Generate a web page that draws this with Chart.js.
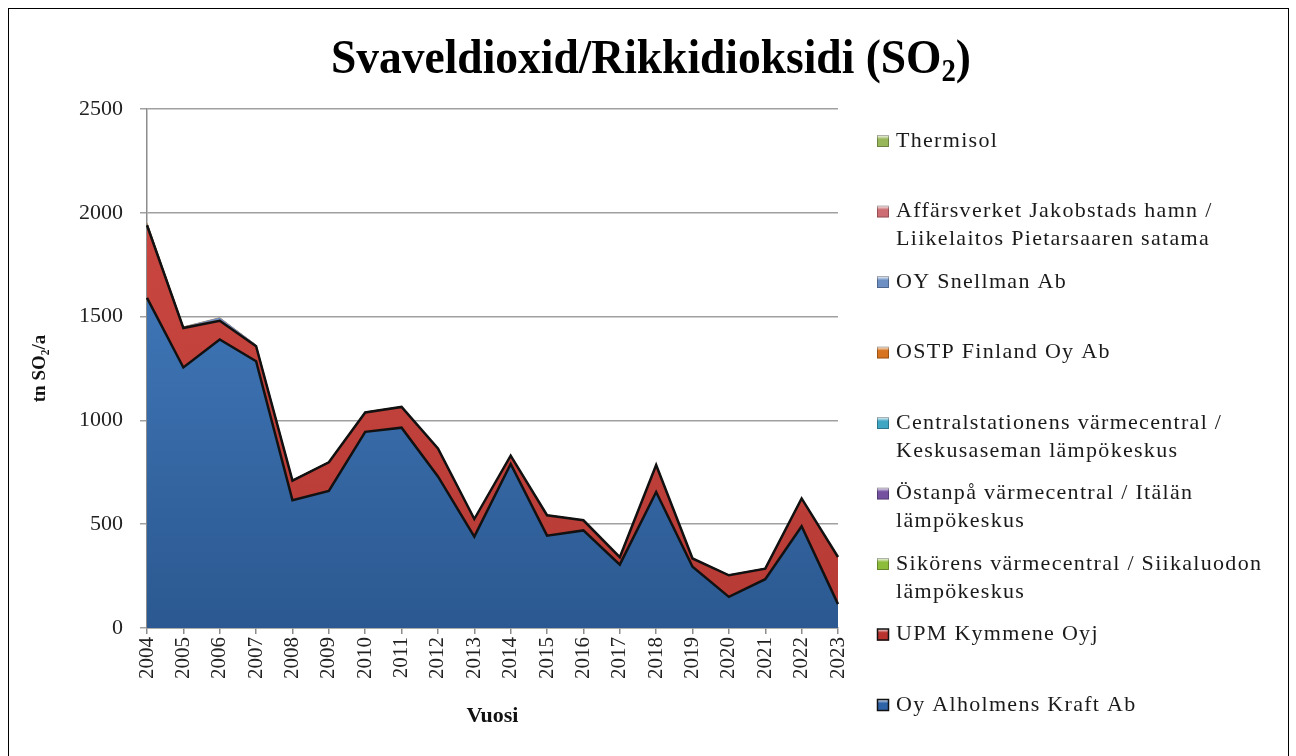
<!DOCTYPE html>
<html>
<head>
<meta charset="utf-8">
<script src="https://cdn.jsdelivr.net/npm/chart.js@4.4.1/dist/chart.umd.min.js"></script>
<style>
  html, body { margin: 0; padding: 0; background: #fff; }
  #wrap { position: relative; width: 1296px; height: 756px; }
</style>
</head>
<body>
<div id="wrap"><canvas id="so2Chart"></canvas></div>
<script>
// Data (tn SO2 per year)
const years = ['2004','2005','2006','2007','2008','2009','2010','2011','2012','2013',
               '2014','2015','2016','2017','2018','2019','2020','2021','2022','2023'];

const alholmens  = [1590,1255,1390,1285,615,660,945,965,730,440,790,445,470,305,655,295,150,235,490,115];
const upm        = [350,190,90,72,95,138,93,100,135,85,40,98,49,36,130,40,104,51,134,227];
const sikoren    = [2,1,1,1,1,1,1,0,0,0,0,0,0,0,0,0,0,0,0,0];
const ostanpa    = [1,1,0,0,0,0,0,0,0,0,0,0,0,0,0,0,0,0,0,0];
const central    = [1,1,1,1,0,0,0,0,0,0,0,0,0,0,0,0,0,0,0,0];
const ostp       = [5,2,1,1,1,1,1,1,1,1,1,1,1,1,0,1,1,1,1,0];
const snellman   = [0,0,10,3,0,0,0,0,0,0,0,0,0,0,0,0,0,0,0,0];
const jakobstad  = [1,0,1,0,0,0,0,0,0,0,0,0,0,0,0,0,0,0,0,0];
const thermisol  = [0,0,1,0,0,0,0,0,0,0,0,0,0,0,0,0,0,0,0,0];

const yTicks = [0, 500, 1000, 1500, 2000, 2500];

const titleText = 'Svaveldioxid/Rikkidioksidi (SO';
const yAxisTitle = 'tn SO\u2082/a';
const xAxisTitle = 'Vuosi';

// Series, bottom of the stack first. Legend lists them top-down in reverse.
const series = [
  { label: ['Oy Alholmens Kraft Ab'], data: alholmens, color: '#2f63a8', top: '#4a86cc', bottom: '#2b5890', line: '#111' },
  { label: ['UPM Kymmene Oyj'], data: upm, color: '#b8332e', top: '#cf4a43', bottom: '#b63a35', line: '#111' },
  { label: ['Sikörens värmecentral / Siikaluodon', 'lämpökeskus'], data: sikoren, color: '#8dbb3a' },
  { label: ['Östanpå värmecentral / Itälän', 'lämpökeskus'], data: ostanpa, color: '#7452a0' },
  { label: ['Centralstationens värmecentral /', 'Keskusaseman lämpökeskus'], data: central, color: '#3fa6c4' },
  { label: ['OSTP Finland Oy Ab'], data: ostp, color: '#d7731e' },
  { label: ['OY Snellman Ab'], data: snellman, color: '#6e8fc4' },
  { label: ['Affärsverket Jakobstads hamn /', 'Liikelaitos Pietarsaaren satama'], data: jakobstad, color: '#cc6e73' },
  { label: ['Thermisol'], data: thermisol, color: '#98b65a' }
];

const SERIF = '"Liberation Serif", "Times New Roman", serif';

function areaFill(s) {
  return (ctx) => {
    const area = ctx.chart.chartArea;
    if (!area || !s.top) return s.color;
    const g = ctx.chart.ctx.createLinearGradient(0, area.top, 0, area.bottom);
    g.addColorStop(0, s.top);
    g.addColorStop(1, s.bottom);
    return g;
  };
}

// Title with a real subscript 2, plus the outer frame
const frameAndTitle = {
  id: 'frameAndTitle',
  afterDraw(chart) {
    const c = chart.ctx;
    c.save();
    c.strokeStyle = '#000';
    c.lineWidth = 1;
    c.strokeRect(8.5, 8.5, 1280, 760);

    c.fillStyle = '#000';
    c.textBaseline = 'alphabetic';
    const big = 'bold 49px ' + SERIF;
    const small = 'bold 31px ' + SERIF;
    c.font = big;
    const w1 = c.measureText(titleText).width;
    const w3 = c.measureText(')').width;
    c.font = small;
    const w2 = c.measureText('2').width;
    const total = w1 + w2 + w3;
    const target = 640;
    const sx = Math.min(1, target / total);
    const startX = 651 - (total * sx) / 2;
    const base = 73;
    c.translate(startX, 0);
    c.scale(sx, 1);
    c.font = big;
    c.fillText(titleText, 0, base);
    c.font = small;
    c.fillText('2', w1, base + 8);
    c.font = big;
    c.fillText(')', w1 + w2, base);
    c.restore();
  }
};

// Legend on the right with wrapped labels, spread like the original
const sideLegend = {
  id: 'sideLegend',
  afterDraw(chart) {
    const c = chart.ctx;
    const items = series.slice().reverse();
    const firstY = 141;
    const step = 70.5;
    const lineH = 28;
    c.save();
    c.font = '22px ' + SERIF;
    c.letterSpacing = '1.3px';
    c.textBaseline = 'middle';
    items.forEach((s, i) => {
      const y = firstY + i * step;
      const bx = 877, by = y - 6, bs = 12;
      const g = c.createLinearGradient(0, by, 0, by + bs);
      g.addColorStop(0, '#ffffff');
      g.addColorStop(0.35, s.color);
      g.addColorStop(1, s.color);
      c.fillStyle = g;
      c.fillRect(bx, by, bs, bs);
      c.strokeStyle = (s.line || 'rgba(0,0,0,0.35)');
      c.lineWidth = s.line ? 1.5 : 0.8;
      c.strokeRect(bx + 0.5, by + 0.5, bs - 1, bs - 1);
      c.fillStyle = '#1a1a1a';
      s.label.forEach((t, k) => c.fillText(t, 896, y + k * lineH));
    });
    c.restore();
  }
};

const datasets = series.map((s, i) => ({
  label: s.label.join(' '),
  data: s.data,
  fill: i === 0 ? 'origin' : '-1',
  backgroundColor: areaFill(s),
  borderColor: s.line || s.color,
  borderWidth: s.line ? 2.5 : 0.8,
  pointRadius: 0,
  pointHoverRadius: 0,
  tension: 0
}));

new Chart(document.getElementById('so2Chart'), {
  type: 'line',
  data: { labels: years, datasets },
  options: {
    responsive: true,
    maintainAspectRatio: false,
    animation: false,
    layout: { padding: { left: 0, top: 109, right: 458, bottom: 0 } },
    plugins: {
      legend: { display: false },
      title: { display: false },
      tooltip: { enabled: false }
    },
    scales: {
      x: {
        stacked: true,
        offset: false,
        afterFit(scale) { scale.height = 128; },
        grid: { drawOnChartArea: false, drawTicks: true, tickLength: 6, color: '#8c8c8c', lineWidth: 1.5 },
        border: { display: true, color: '#8c8c8c', width: 1.5 },
        ticks: {
          minRotation: 90, maxRotation: 90, autoSkip: false, padding: 3,
          color: '#222', font: { family: SERIF, size: 21 }
        },
        title: {
          display: true, text: xAxisTitle, color: '#111',
          font: { family: SERIF, size: 22, weight: 'bold' },
          padding: { top: 0, bottom: 26 }
        }
      },
      y: {
        stacked: true,
        min: 0, max: 2500,
        afterFit(scale) { scale.width = 147; },
        afterBuildTicks(scale) { scale.ticks = yTicks.map(v => ({ value: v })); },
        grid: { color: '#a0a0a0', lineWidth: 1.5, tickLength: 7, drawTicks: true },
        border: { display: true, color: '#8c8c8c', width: 1.5 },
        ticks: {
          padding: 17, color: '#222', font: { family: SERIF, size: 22 },
          callback: (v) => String(v)
        },
        title: {
          display: true, text: yAxisTitle, color: '#111',
          font: { family: SERIF, size: 19, weight: 'bold' },
          padding: { top: 29, bottom: 0 }
        }
      }
    }
  },
  plugins: [frameAndTitle, sideLegend]
});
</script>
</body>
</html>
